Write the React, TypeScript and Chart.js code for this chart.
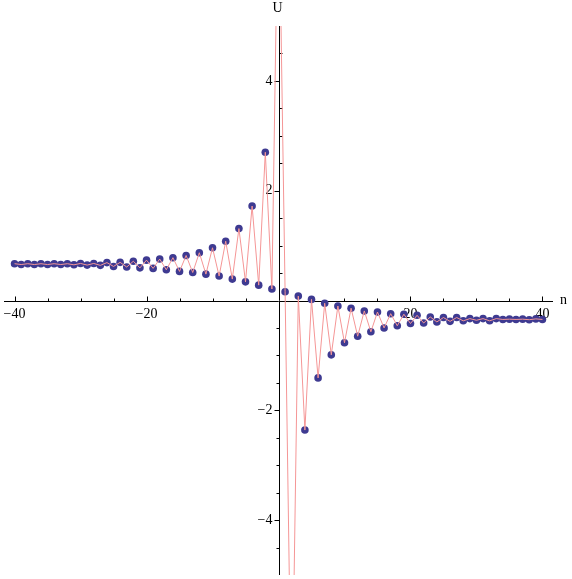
import React, { useEffect, useRef } from "react";
import { Chart, registerables } from "chart.js";

Chart.register(...registerables);

// n values (integers from -40 to 40)
const nValues = [
  -40, -39, -38, -37, -36, -35, -34, -33, -32, -31,
  -30, -29, -28, -27, -26, -25, -24, -23, -22, -21,
  -20, -19, -18, -17, -16, -15, -14, -13, -12, -11,
  -10, -9, -8, -7, -6, -5, -4, -3, -2, -1,
  0,
  1, 2, 3, 4, 5, 6, 7, 8, 9, 10,
  11, 12, 13, 14, 15, 16, 17, 18, 19, 20,
  21, 22, 23, 24, 25, 26, 27, 28, 29, 30,
  31, 32, 33, 34, 35, 36, 37, 38, 39, 40,
];

// U(n) values
const uValues = [
  0.67, 0.655, 0.67, 0.655, 0.67, 0.655, 0.67, 0.655, 0.67, 0.65,
  0.675, 0.645, 0.675, 0.64, 0.69, 0.62, 0.695, 0.61, 0.715, 0.595,
  0.735, 0.585, 0.755, 0.56, 0.78, 0.53, 0.82, 0.51, 0.87, 0.48,
  0.96, 0.445, 1.08, 0.39, 1.31, 0.34, 1.72, 0.28, 2.7, 0.21,
  8,
  0.16, -8, 0.08, -2.36, 0.02, -1.41, -0.05, -0.99, -0.1, -0.77,
  -0.14, -0.65, -0.19, -0.57, -0.21, -0.5, -0.24, -0.46, -0.25, -0.42,
  -0.27, -0.41, -0.3, -0.39, -0.31, -0.38, -0.31, -0.37, -0.33, -0.36,
  -0.33, -0.37, -0.33, -0.345, -0.34, -0.345, -0.34, -0.35, -0.335, -0.345,
];

const xMajorTicks = [-40, -20, 20, 40];
const xMajorLabels = ["\u221240", "\u221220", "20", "40"];
const xMinorTicks = [-35, -30, -25, -15, -10, -5, 5, 10, 15, 25, 30, 35];
const yMajorTicks = [-4, -2, 2, 4];
const yMajorLabels = ["\u22124", "\u22122", "2", "4"];
const yMinorTicks = [-4.5, -3.5, -3, -2.5, -1.5, -1, -0.5, 0.5, 1, 1.5, 2.5, 3, 3.5, 4.5];

const X_MIN = -41.6;
const X_MAX = 41.6;
const Y_MIN = -5;
const Y_MAX = 5;

const FONT = '14px "Liberation Serif", "DejaVu Serif", serif';

const axesPlugin = {
  id: "mmaAxes",
  beforeDatasetsDraw(chart: any) {
    const ctx = chart.ctx as CanvasRenderingContext2D;
    const xs = chart.scales.x;
    const ys = chart.scales.y;
    const { left, right, top, bottom } = chart.chartArea;
    const x0 = Math.round(xs.getPixelForValue(0)) + 0.5;
    const y0 = Math.round(ys.getPixelForValue(0)) + 0.5;
    ctx.save();
    ctx.strokeStyle = "#000";
    ctx.lineWidth = 1;
    ctx.beginPath();
    ctx.moveTo(left, y0);
    ctx.lineTo(right, y0);
    ctx.moveTo(x0, top);
    ctx.lineTo(x0, bottom);
    // x ticks (pointing up)
    xMajorTicks.forEach((v) => {
      const px = Math.round(xs.getPixelForValue(v)) + 0.5;
      ctx.moveTo(px, y0);
      ctx.lineTo(px, y0 - 5);
    });
    xMinorTicks.forEach((v) => {
      const px = Math.round(xs.getPixelForValue(v)) + 0.5;
      ctx.moveTo(px, y0);
      ctx.lineTo(px, y0 - 3);
    });
    // y ticks
    yMajorTicks.forEach((v) => {
      const py = Math.round(ys.getPixelForValue(v)) + 0.5;
      ctx.moveTo(x0, py);
      ctx.lineTo(x0 - 5, py);
    });
    yMinorTicks.forEach((v) => {
      const py = Math.round(ys.getPixelForValue(v)) + 0.5;
      const dir = v > 0 ? 1 : -1;
      ctx.moveTo(x0, py);
      ctx.lineTo(x0 + dir * 3, py);
    });
    ctx.stroke();

    ctx.fillStyle = "#000";
    ctx.font = FONT;
    ctx.textAlign = "center";
    ctx.textBaseline = "top";
    xMajorTicks.forEach((v, i) => {
      const px = xs.getPixelForValue(v);
      ctx.fillText(xMajorLabels[i], px, y0 + 6);
    });
    ctx.textAlign = "right";
    ctx.textBaseline = "middle";
    yMajorTicks.forEach((v, i) => {
      const py = ys.getPixelForValue(v);
      ctx.fillText(yMajorLabels[i], x0 - 7, py);
    });
    // axis labels
    ctx.textAlign = "center";
    ctx.textBaseline = "middle";
    ctx.fillText("U", x0 - 2, 8);
    ctx.textAlign = "left";
    ctx.fillText("n", right + 7, y0 - 1);
    ctx.restore();
  },
};

export default function App() {
  const canvasRef = useRef<HTMLCanvasElement | null>(null);

  useEffect(() => {
    const canvas = canvasRef.current;
    if (!canvas) return;
    const pts = nValues.map((n, i) => ({ x: n, y: uValues[i] }));
    const chart = new Chart(canvas, {
      type: "scatter",
      data: {
        datasets: [
          {
            label: "line",
            data: pts,
            showLine: true,
            borderColor: "rgb(245,150,150)",
            borderWidth: 1,
            pointRadius: 0,
            pointHoverRadius: 0,
            order: 0,
            clip: 0,
          } as any,
          {
            label: "points",
            data: pts,
            showLine: false,
            backgroundColor: "rgb(62,58,145)",
            borderColor: "rgb(62,58,145)",
            borderWidth: 0,
            pointRadius: 3.8,
            order: 1,
            clip: 0,
          } as any,
        ],
      },
      options: {
        animation: false,
        responsive: false,
        maintainAspectRatio: false,
        events: [],
        layout: { padding: { left: 3, right: 19, top: 26, bottom: 3 } },
        plugins: {
          legend: { display: false },
          tooltip: { enabled: false },
        },
        scales: {
          x: { type: "linear", min: X_MIN, max: X_MAX, display: false },
          y: { type: "linear", min: Y_MIN, max: Y_MAX, display: false },
        },
      },
      plugins: [axesPlugin],
    });
    return () => chart.destroy();
  }, []);

  return (
    <div style={{ position: "absolute", left: 0, top: 0, width: 572, height: 579, background: "#fff" }}>
      <canvas ref={canvasRef} width={572} height={579} style={{ display: "block", width: 572, height: 579 }} />
    </div>
  );
}
